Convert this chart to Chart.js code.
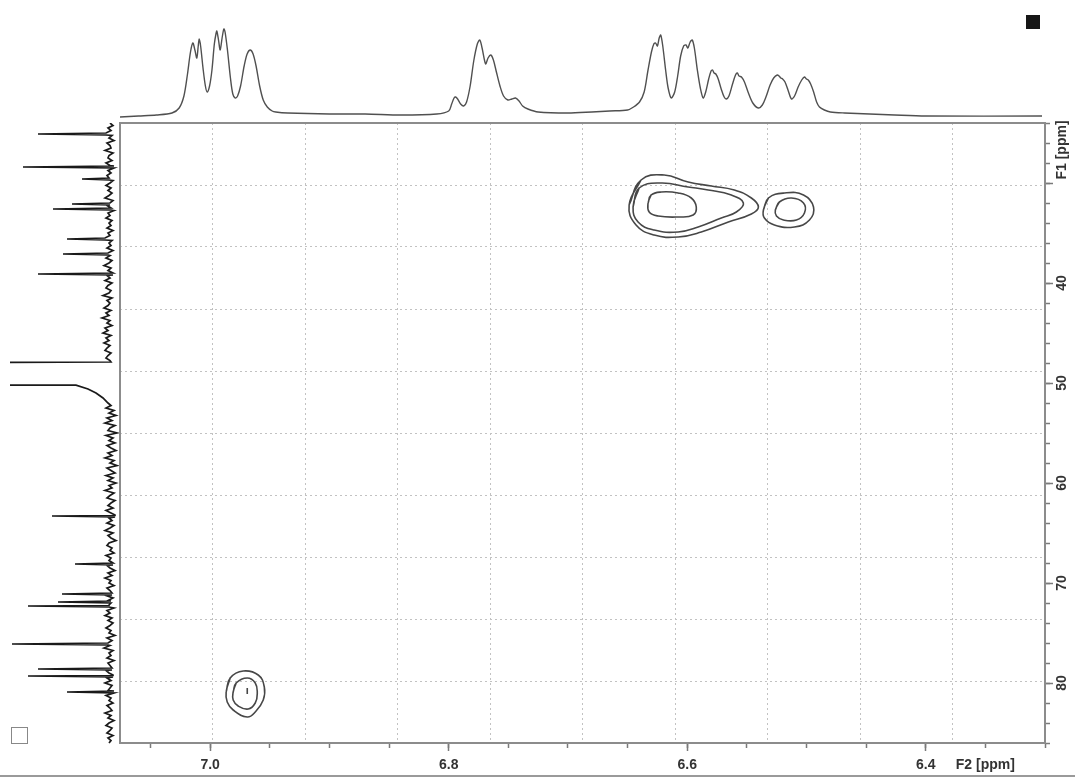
<!DOCTYPE html>
<html>
<head>
<meta charset="utf-8">
<title>HSQC 6.3-7.1 / 24-86 ppm</title>
<script src="https://cdn.jsdelivr.net/npm/chart.js@4.4.1/dist/chart.umd.min.js"></script>
<style>
  html, body { margin: 0; padding: 0; background: #fff; }
  #wrap { position: relative; width: 1075px; height: 778px; overflow: hidden; }
  #nmr { position: absolute; left: 0; top: 0; }
  .mark-filled { position: absolute; left: 1026px; top: 15px; width: 14px; height: 14px; background: #161616; }
  .mark-open { position: absolute; left: 11px; top: 727px; width: 17px; height: 17px; border: 1.5px solid #888; box-sizing: border-box; }
  .rule { position: absolute; left: 0; top: 775px; width: 1075px; height: 2px; background: #9a9a9a; }
</style>
</head>
<body>
<div id="wrap">
  <canvas id="nmr" width="1075" height="778"></canvas>
  <div class="mark-filled"></div>
  <div class="mark-open"></div>
  <div class="rule"></div>
</div>
<script>
// F2 (1H) axis
const f2Min = 6.30, f2Max = 7.0756;
const f2TickValues = [7.0, 6.8, 6.6, 6.4, 6.35];
const f2TickLabels = ['7.0', '6.8', '6.6', '6.4', 'F2 [ppm]'];

// F1 (13C) axis
const f1Min = 24, f1Max = 86;
const f1TickValues = [30, 40, 50, 60, 70, 80];
const f1LabelValues = [26.7, 40, 50, 60, 70, 80];
const f1LabelTexts = ['F1 [ppm]', '40', '50', '60', '70', '80'];

// 1H projection on top: [ppm, intensity]
const protonTrace = [
  [7.0756, -1], [7.060, 0], [7.045, 1], [7.032, 3], [7.026, 8], [7.022, 20], [7.019, 42],
  [7.0165, 64], [7.0145, 73], [7.0128, 66], [7.0112, 58], [7.0100, 70], [7.0092, 77],
  [7.0080, 70], [7.0060, 48], [7.0040, 30], [7.0025, 24], [7.0005, 30], [6.9985, 46],
  [6.9965, 72], [6.9950, 83], [6.9944, 85], [6.9930, 76], [6.9916, 66], [6.9900, 78],
  [6.9885, 87], [6.9875, 84], [6.9855, 66], [6.9830, 38], [6.9810, 22], [6.9790, 18],
  [6.9770, 20], [6.9745, 30], [6.9715, 50], [6.9690, 62], [6.9664, 66], [6.9640, 62],
  [6.9615, 50], [6.9585, 30], [6.9555, 16], [6.9521, 9], [6.9480, 5], [6.945, 4],
  [6.935, 3], [6.90, 2], [6.87, 2], [6.84, 1], [6.81, 2],
  [6.80, 5], [6.7975, 12], [6.7955, 18], [6.7941, 19], [6.7925, 17], [6.7900, 12],
  [6.7874, 10], [6.7850, 14], [6.7820, 30], [6.7790, 55], [6.7760, 72], [6.7739, 76],
  [6.7720, 68], [6.7700, 56], [6.7689, 52], [6.7670, 58], [6.7647, 61], [6.7625, 56],
  [6.7600, 44], [6.7570, 30], [6.7540, 20], [6.7504, 16], [6.7470, 17], [6.7440, 18],
  [6.7410, 15], [6.7380, 10], [6.7336, 7], [6.725, 4], [6.70, 3], [6.68, 4], [6.665, 5],
  [6.650, 6], [6.645, 9], [6.640, 14], [6.6361, 24], [6.6330, 45], [6.6300, 64],
  [6.6280, 72], [6.6265, 73], [6.6250, 70], [6.6235, 78], [6.6222, 81], [6.6205, 70],
  [6.6180, 45], [6.6160, 28], [6.6134, 18], [6.6105, 24], [6.6080, 40], [6.6055, 60],
  [6.6030, 70], [6.6010, 71], [6.5995, 68], [6.5975, 74], [6.5958, 76], [6.5940, 68],
  [6.5915, 46], [6.5890, 28], [6.5866, 18], [6.5845, 24], [6.5820, 37], [6.5800, 45],
  [6.5788, 46], [6.5775, 43], [6.5760, 42], [6.5740, 37], [6.5715, 27], [6.5690, 19],
  [6.5672, 17], [6.5650, 20], [6.5620, 32], [6.5595, 41], [6.5580, 43], [6.5565, 40],
  [6.5545, 39], [6.5520, 34], [6.5490, 24], [6.5450, 13], [6.5403, 8], [6.5370, 11],
  [6.5340, 19], [6.5305, 31], [6.5275, 38], [6.5245, 41], [6.5230, 40], [6.5215, 38],
  [6.5200, 37], [6.5180, 34], [6.5155, 26], [6.5126, 17], [6.5100, 20], [6.5070, 29],
  [6.5040, 36], [6.5017, 39], [6.5000, 37], [6.4985, 36], [6.4965, 32], [6.4940, 24],
  [6.4915, 14], [6.4891, 9], [6.4850, 6], [6.4800, 4], [6.4681, 3], [6.4261, 1],
  [6.40, 0], [6.3025, 0]
];

// 13C projection on the left, sampled every 0.25 ppm
const carbonStep = 0.25;
const carbonUpperStart = 24.0;   // 24.0 ... 47.75
const carbonUpper = [
  10, 7, 12, 9, 14, 8, 11, 6, 13, 10, 9, 15, 7, 11, 12, 8, 14, 10, 6, 12, 9, 13, 11, 7, 10,
  14, 9, 12, 8, 11, 15, 7, 10, 13, 9, 6, 12, 10, 14, 8, 11, 9, 13, 7, 12, 10, 15, 8, 11,
  9, 13, 7, 12, 10, 14, 8, 11, 16, 9, 12, 7, 13, 10, 15, 8, 12, 14, 9, 11, 17, 8, 13, 10,
  12, 16, 9, 14, 11, 18, 10, 13, 8, 15, 12, 17, 9, 14, 11, 16, 10, 13, 15, 9, 12, 14, 10
];
// solvent signal, its top runs off the panel
const solventSignal = [
  [47.9, 9], [48.0, 300], [50.2, 300], [50.22, 44], [50.6, 32], [51.0, 24], [51.5, 17], [52.0, 12]
];
const carbonLowerStart = 52.25;  // 52.25 ... 86.0
const carbonLower = [
  9, 14, 6, 11, 4, 13, 8, 15, 5, 10, 12, 3, 14, 7, 11, 5, 13, 9, 4, 12,
  8, 15, 6, 10, 3, 13, 9, 5, 14, 7, 12, 4, 11, 8, 15, 6, 10, 13, 5, 9,
  12, 7, 14, 9, 5, 11, 8, 13, 6, 10, 15, 7, 12, 9, 4, 11, 13, 8, 10, 6,
  14, 9, 11, 7, 13, 10, 5, 12, 8, 15, 9, 11, 6, 13, 10, 8, 14, 7, 12, 9,
  11, 6, 13, 10, 15, 8, 12, 7, 10, 14, 9, 11, 5, 13, 8, 12, 10, 16, 7, 11,
  9, 13, 6, 12, 10, 8, 14, 11, 7, 13, 9, 15, 8, 10, 12, 6, 14, 9, 11, 7,
  13, 10, 8, 15, 9, 12, 6, 11, 14, 8, 10, 13, 7, 12, 9, 11
];

// 13C lines: [ppm, height]
const carbonPeaks = [
  [25.1, 82], [28.4, 97], [29.6, 38], [32.1, 48], [32.6, 67], [35.6, 53], [37.1, 57],
  [39.1, 82], [63.3, 68], [68.1, 45], [71.1, 58], [71.9, 62], [72.3, 92], [76.1, 108],
  [78.6, 82], [79.3, 92], [80.9, 53]
];

// cross peak at 6.60 / 32 ppm, outer to inner level
const peakA1 = [[6.6487, 32.2], [6.6387, 29.7], [6.6193, 29.2], [6.5992, 29.9], [6.5798, 30.3], [6.5605, 30.7], [6.5462, 31.5], [6.5403, 32.4], [6.5462, 33.1], [6.5655, 33.9], [6.5882, 34.9], [6.6076, 35.4], [6.6277, 35.2], [6.6429, 34.2]];
const peakA2 = [[6.6454, 32.4], [6.6403, 30.5], [6.6218, 30.0], [6.5992, 30.4], [6.5824, 30.7], [6.5630, 31.2], [6.5529, 32.0], [6.5588, 32.9], [6.5714, 33.5], [6.5908, 34.4], [6.6076, 34.9], [6.6277, 34.7], [6.6412, 33.9]];
const peakA3 = [[6.6328, 32.0], [6.6303, 31.2], [6.6218, 30.9], [6.6076, 31.0], [6.5966, 31.5], [6.5924, 32.4], [6.5950, 33.2], [6.6076, 33.4], [6.6244, 33.3], [6.6319, 32.9]];
// cross peak at 6.52 / 32.5 ppm
const peakB1 = [[6.5361, 32.7], [6.5319, 31.5], [6.5185, 31.0], [6.5025, 31.2], [6.4941, 32.4], [6.4975, 33.7], [6.5101, 34.4], [6.5269, 34.2], [6.5353, 33.5]];
const peakB2 = [[6.5261, 32.7], [6.5227, 31.9], [6.5126, 31.5], [6.5025, 32.0], [6.5017, 33.0], [6.5084, 33.7], [6.5193, 33.7], [6.5252, 33.3]];
// cross peak at 6.97 / 81 ppm
const peakC1 = [[6.9866, 80.9], [6.9832, 79.5], [6.9723, 78.8], [6.9597, 79.2], [6.9546, 80.4], [6.9555, 81.7], [6.9622, 82.9], [6.9689, 83.4], [6.9807, 82.7], [6.9857, 81.9]];
const peakC2 = [[6.9807, 80.9], [6.9782, 80.0], [6.9689, 79.5], [6.9622, 80.0], [6.9605, 81.0], [6.9622, 82.0], [6.9681, 82.6], [6.9765, 82.3], [6.9807, 81.7]];
const peakC3 = [[6.9689, 80.5], [6.9689, 81.1]];

const axisGray = '#7a7a7a';
const textGray = '#333';
const labelFont = { family: '"Liberation Sans", Arial, sans-serif', size: 14, weight: 'bold' };

function contour(points, closed) {
  const pts = closed ? points.concat([points[0], points[1]]) : points;
  return {
    data: pts.map(([x, y]) => ({ x, y })),
    xAxisID: 'x', yAxisID: 'y',
    borderColor: '#474747', borderWidth: 1.6,
    pointRadius: 0, tension: 0.45, fill: false
  };
}

const protonData = protonTrace.map(([ppm, v]) => ({ x: ppm, y: v }));

// carbon trace: sampled baseline + solvent + narrow lines
const carbonSamples = carbonUpper.map((v, i) => [carbonUpperStart + i * carbonStep, v])
  .concat(solventSignal)
  .concat(carbonLower.map((v, i) => [carbonLowerStart + i * carbonStep, v]));
function baseAt(ppm) {
  let best = carbonSamples[0];
  carbonSamples.forEach(p => { if (Math.abs(p[0] - ppm) < Math.abs(best[0] - ppm)) best = p; });
  return best[1];
}
const carbonLines = [];
carbonPeaks.forEach(([ppm, h]) => {
  const b = baseAt(ppm);
  carbonLines.push([ppm - 0.1, b], [ppm, h], [ppm + 0.1, b]);
});
const carbonData = carbonSamples.concat(carbonLines)
  .sort((a, b) => a[0] - b[0])
  .map(([ppm, v]) => ({ x: v, y: ppm }));

// box around the 2D area
const frame = {
  id: 'frame',
  afterDatasetsDraw(chart) {
    const { ctx, chartArea: a } = chart;
    ctx.save();
    ctx.strokeStyle = '#8c8c8c';
    ctx.lineWidth = 2;
    ctx.strokeRect(a.left, a.top, a.right - a.left, a.bottom - a.top);
    ctx.restore();
  }
};

// F1 labels, rotated as in TopSpin
const f1Labels = {
  id: 'f1Labels',
  afterDraw(chart) {
    const { ctx } = chart;
    const s = chart.scales.y;
    ctx.save();
    ctx.font = 'bold 14px "Liberation Sans", Arial, sans-serif';
    ctx.fillStyle = textGray;
    ctx.textAlign = 'center';
    ctx.textBaseline = 'middle';
    f1LabelValues.forEach((v, i) => {
      ctx.save();
      ctx.translate(s.right - 13, s.getPixelForValue(v));
      ctx.rotate(-Math.PI / 2);
      ctx.fillText(f1LabelTexts[i], 0, 0);
      ctx.restore();
    });
    ctx.restore();
  }
};

const edgeless = c => (c.tick && (c.tick.value === 0 || c.tick.value === 10)) ? 'rgba(0,0,0,0)' : '#c2c2c2';

new Chart(document.getElementById('nmr'), {
  type: 'line',
  data: {
    datasets: [
      {
        data: protonData, xAxisID: 'x', yAxisID: 'yTop',
        borderColor: '#505050', borderWidth: 1.4, pointRadius: 0,
        tension: 0.3, fill: false,
        clip: { left: 0, right: 0, top: 123, bottom: 0 }
      },
      {
        data: carbonData, xAxisID: 'xLeft', yAxisID: 'y', indexAxis: 'y',
        borderColor: '#1a1a1a', borderWidth: 1.7, pointRadius: 0, tension: 0, fill: false,
        clip: { left: 110, right: 0, top: 0, bottom: 2 }
      },
      contour(peakA1, true), contour(peakA2, true), contour(peakA3, true),
      contour(peakB1, true), contour(peakB2, true),
      contour(peakC1, true), contour(peakC2, true), contour(peakC3, false)
    ]
  },
  options: {
    responsive: false,
    animation: false,
    events: [],
    layout: { padding: { left: 120, top: 123, right: 0, bottom: 0 } },
    plugins: { legend: { display: false }, tooltip: { enabled: false } },
    scales: {
      x: {
        type: 'linear', position: 'bottom', weight: 1,
        min: f2Min, max: f2Max, reverse: true,
        afterBuildTicks: s => { s.ticks = f2TickValues.map(value => ({ value })); },
        afterFit: s => { s.height = 35; },
        border: { display: false },
        grid: {
          drawOnChartArea: false, tickLength: 8, tickWidth: 1.5,
          tickColor: c => (c.tick && c.tick.value === 6.35) ? 'rgba(0,0,0,0)' : axisGray
        },
        ticks: {
          autoSkip: false, maxRotation: 0, padding: 6, color: textGray, font: labelFont,
          callback: (v, i) => f2TickLabels[i]
        }
      },
      xMinor: {
        type: 'linear', position: 'bottom', weight: 0,
        min: f2Min, max: f2Max, reverse: true,
        afterFit: s => { s.height = 0; },
        border: { display: false },
        grid: { drawOnChartArea: false, tickLength: 5, tickWidth: 1.5, tickColor: axisGray },
        ticks: { display: false, stepSize: 0.05, includeBounds: false }
      },
      y: {
        type: 'linear', position: 'right', weight: 1,
        min: f1Min, max: f1Max, reverse: true,
        afterBuildTicks: s => { s.ticks = f1TickValues.map(value => ({ value })); },
        afterFit: s => { s.width = 30; },
        border: { display: false },
        grid: { drawOnChartArea: false, tickLength: 8, tickWidth: 1.5, tickColor: axisGray },
        ticks: { display: false }
      },
      yMinor: {
        type: 'linear', position: 'right', weight: 0,
        min: f1Min, max: f1Max, reverse: true,
        afterFit: s => { s.width = 0; },
        border: { display: false },
        grid: { drawOnChartArea: false, tickLength: 5, tickWidth: 1.5, tickColor: axisGray },
        ticks: { display: false, stepSize: 2, includeBounds: false }
      },
      gx: {
        type: 'linear', axis: 'x', position: 'top', min: 0, max: 10,
        border: { display: false, dash: [2, 3] },
        grid: { drawTicks: false, lineWidth: 1, color: edgeless },
        ticks: { display: false, stepSize: 1 }
      },
      gy: {
        type: 'linear', axis: 'y', position: 'left', min: 0, max: 10,
        border: { display: false, dash: [2, 3] },
        grid: { drawTicks: false, lineWidth: 1, color: edgeless },
        ticks: { display: false, stepSize: 1 }
      },
      yTop: { type: 'linear', axis: 'y', display: false, min: -627, max: -7 },
      xLeft: { type: 'linear', axis: 'x', display: false, min: -925, max: 0, reverse: true }
    }
  },
  plugins: [frame, f1Labels]
});
</script>
</body>
</html>
